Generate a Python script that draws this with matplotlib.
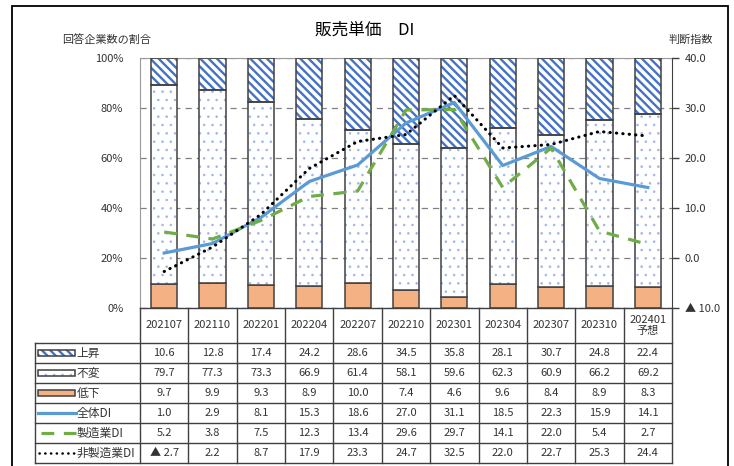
import numpy as np
import matplotlib
matplotlib.use("Agg")
import matplotlib.pyplot as plt
from matplotlib.patches import Rectangle
from matplotlib.lines import Line2D
from matplotlib.ticker import PercentFormatter

plt.rcParams['font.family'] = ['Noto Sans CJK JP', 'DejaVu Sans']

# data
periods = ['202107', '202110', '202201', '202204', '202207', '202210',
           '202301', '202304', '202307', '202310', '202401\n予想']
up = [10.6, 12.8, 17.4, 24.2, 28.6, 34.5, 35.8, 28.1, 30.7, 24.8, 22.4]
flat = [79.7, 77.3, 73.3, 66.9, 61.4, 58.1, 59.6, 62.3, 60.9, 66.2, 69.2]
down = [9.7, 9.9, 9.3, 8.9, 10.0, 7.4, 4.6, 9.6, 8.4, 8.9, 8.3]
di_all = [1.0, 2.9, 8.1, 15.3, 18.6, 27.0, 31.1, 18.5, 22.3, 15.9, 14.1]
di_mfg = [5.2, 3.8, 7.5, 12.3, 13.4, 29.6, 29.7, 14.1, 22.0, 5.4, 2.7]
di_non = [-2.7, 2.2, 8.7, 17.9, 23.3, 24.7, 32.5, 22.0, 22.7, 25.3, 24.4]

BLUE_H = '#4472C4'
DOT_C = '#9DB7E4'
ORANGE = '#F4B183'
C_ALL = '#5B9BD5'
C_MFG = '#70AD47'
EDGE = '#404040'
TXT = '#333333'
STRIPE = '\\\\\\\\'
FS = 8

W, H = 734, 466
fig = plt.figure(figsize=(W / 100, H / 100), dpi=100)

def fx(p):
    return p / W

def fy(p):
    return 1 - p / H

L, R, T, B = 140, 672, 58, 308
ax = fig.add_axes([fx(L), fy(B), fx(R - L), (B - T) / H])

x = np.arange(len(periods))
bw = 0.54
up_a, flat_a, down_a = map(np.array, (up, flat, down))

ax.set_axisbelow(True)
ax.yaxis.grid(True, linestyle=(0, (5, 4)), color='#808080', lw=0.9)

# bottom: decrease
ax.bar(x, down_a, bw, color=ORANGE, edgecolor=EDGE, lw=1.1, zorder=2)
# middle: unchanged (dotted)
with plt.rc_context({'hatch.linewidth': 0.6}):
    ax.bar(x, flat_a, bw, bottom=down_a, color='white', edgecolor=DOT_C,
           lw=0, hatch='..', zorder=2)
ax.bar(x, flat_a, bw, bottom=down_a, fill=False, edgecolor=EDGE, lw=1.1, zorder=3)
# top: increase (stripes)
with plt.rc_context({'hatch.linewidth': 1.7}):
    ax.bar(x, up_a, bw, bottom=down_a + flat_a, color='white',
           edgecolor=BLUE_H, lw=0, hatch=STRIPE, zorder=2)
ax.bar(x, up_a, bw, bottom=down_a + flat_a, fill=False, edgecolor=EDGE,
       lw=1.1, zorder=3)

ax.set_xlim(-0.5, len(periods) - 0.5)
ax.set_ylim(0, 100)
ax.set_yticks(np.arange(0, 101, 20))
ax.yaxis.set_major_formatter(PercentFormatter(decimals=0))
ax.tick_params(axis='y', length=0, pad=12, labelsize=FS, colors=TXT)
ax.set_xticks([])
for s in ('left', 'top'):
    ax.spines[s].set_color('#999999')
ax.spines['bottom'].set_visible(False)
ax.spines['right'].set_visible(False)

# DI lines
ax2 = ax.twinx()
ax2.plot(x, di_all, color=C_ALL, lw=2.3, zorder=5)
ax2.plot(x, di_mfg, color=C_MFG, lw=2.3, dashes=(4, 3), zorder=5)
ax2.plot(x, di_non, color='black', lw=2.2, dashes=(0.1, 2.0),
         dash_capstyle='round', zorder=6)
ax2.set_ylim(-10, 40)
ax2.set_yticks(np.arange(-10, 41, 10))
ax2.set_yticklabels(['▲ 10.0' if v < 0 else f'{v:.1f}' for v in range(-10, 41, 10)])
ax2.tick_params(axis='y', length=5, width=1, color=EDGE, labelsize=FS,
                labelcolor=TXT, pad=4)
for s in ('left', 'top', 'bottom'):
    ax2.spines[s].set_visible(False)
ax2.spines['right'].set_color(EDGE)

# titles
fig.text(fx(365), fy(30), '販売単価　DI', ha='center', va='center', fontsize=12)
fig.text(fx(107), fy(40), '回答企業数の割合', ha='center', va='center',
         fontsize=FS, color=TXT)
fig.text(fx(691), fy(40), '判断指数', ha='center', va='center',
         fontsize=FS, color=TXT)

# data table below
tax = fig.add_axes([fx(L), fy(463), fx(R - L), (463 - B) / H], sharex=ax)
tax.set_ylim(155, 0)
tax.axis('off')
colw = (R - L) / len(periods)
lab_left = -0.5 - (L - 35) / colw
n = len(periods)
kw = dict(color=EDGE, lw=1.0, clip_on=False)
tax.plot([-0.5, n - 0.5], [0, 0], **kw)
for yy in [35, 55, 75, 95, 115, 135, 155]:
    tax.plot([lab_left, n - 0.5], [yy, yy], **kw)
for k in range(n + 1):
    tax.plot([k - 0.5, k - 0.5], [0, 155], **kw)
tax.plot([lab_left, lab_left], [35, 155], **kw)

for i, p in enumerate(periods):
    tax.text(i, 17.5, p, ha='center', va='center', fontsize=FS,
             color=TXT, linespacing=1.15)

rows = [up, flat, down, di_all, di_mfg, di_non]
names = ['上昇', '不変', '低下', '全体DI', '製造業DI', '非製造業DI']

def fmt(v):
    return f'▲ {abs(v):.1f}' if v < 0 else f'{v:.1f}'

sw = 37 / colw
s0 = lab_left + 3 / colw
for r, (vals, nm) in enumerate(zip(rows, names)):
    yc = 45 + 20 * r
    for i, v in enumerate(vals):
        tax.text(i, yc, fmt(v), ha='center', va='center', fontsize=FS,
                 color=TXT)
    tax.text(s0 + sw + 1.5 / colw, yc, nm, ha='left', va='center', fontsize=8.5,
             color=TXT)

# legend keys inside the table
with plt.rc_context({'hatch.linewidth': 1.7}):
    tax.add_patch(Rectangle((s0, 42), sw, 6, facecolor='white', edgecolor=BLUE_H,
                            lw=0, hatch=STRIPE, clip_on=False))
tax.add_patch(Rectangle((s0, 42), sw, 6, fill=False, edgecolor=EDGE, lw=1.1,
                        clip_on=False))
with plt.rc_context({'hatch.linewidth': 0.6}):
    tax.add_patch(Rectangle((s0, 62), sw, 6, facecolor='white', edgecolor=DOT_C,
                            lw=0, hatch='..', clip_on=False))
tax.add_patch(Rectangle((s0, 62), sw, 6, fill=False, edgecolor=EDGE, lw=1.1,
                        clip_on=False))
tax.add_patch(Rectangle((s0, 82), sw, 6, facecolor=ORANGE, edgecolor=EDGE, lw=1.1,
                        clip_on=False))
tax.add_line(Line2D([s0, s0 + sw + 1 / colw], [105, 105], color=C_ALL, lw=2.3,
                    clip_on=False))
tax.add_line(Line2D([s0 + 3 / colw, s0 + sw + 1 / colw], [125, 125], color=C_MFG,
                    lw=2.3, dashes=(4, 3), clip_on=False))
tax.add_line(Line2D([s0 + 1 / colw, s0 + sw], [145, 145], color='black',
                    lw=1.8, dashes=(0.1, 2.2), dash_capstyle='round',
                    clip_on=False))

# outer frame
fig.patches.append(Rectangle((fx(12), fy(470)), fx(728 - 12), (470 - 6) / H,
                             fill=False, edgecolor='black', lw=1.3,
                             transform=fig.transFigure))

fig.savefig('out.png', dpi=100)
